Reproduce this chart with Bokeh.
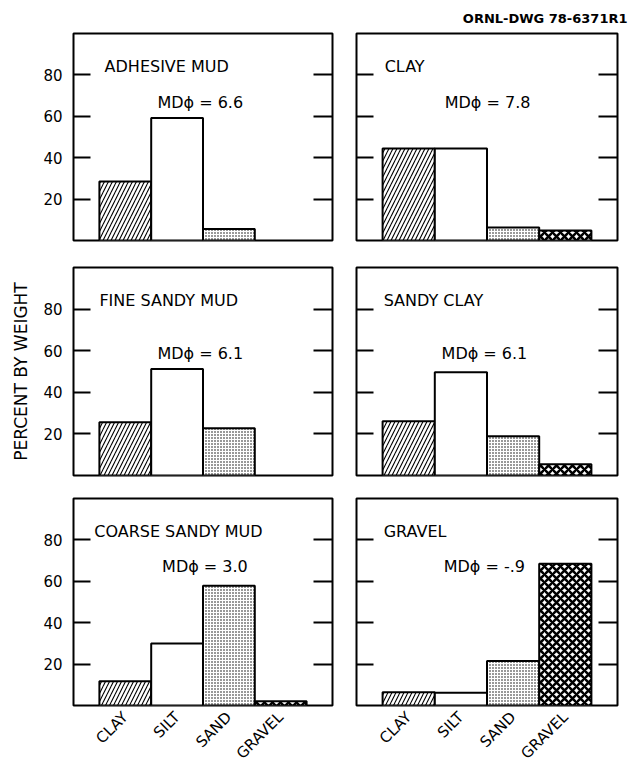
import math
from bokeh.plotting import figure
from bokeh.layouts import column, row
from bokeh.models import Range1d, FixedTicker, LinearAxis, Label, Title
from bokeh.embed import file_html
from bokeh.resources import INLINE

# ---------------- data ----------------
categories = ["CLAY", "SILT", "SAND", "GRAVEL"]
sediment_types = ["ADHESIVE MUD", "CLAY", "FINE SANDY MUD",
                  "SANDY CLAY", "COARSE SANDY MUD", "GRAVEL"]
md_labels = ["MD\u03d5 = 6.6", "MD\u03d5 = 7.8", "MD\u03d5 = 6.1",
             "MD\u03d5 = 6.1", "MD\u03d5 = 3.0", "MD\u03d5 = -.9"]

adhesive_mud = [28.5, 59.2, 5.6, 0.0]
clay = [44.4, 44.4, 6.3, 4.8]
fine_sandy_mud = [25.6, 51.2, 22.7, 0.0]
sandy_clay = [26.1, 49.6, 18.9, 5.4]
coarse_sandy_mud = [11.7, 29.9, 57.9, 2.1]
gravel = [6.4, 6.2, 21.5, 68.5]

y_ticks = [20, 40, 60, 80]
y_axis_title = "PERCENT BY WEIGHT"
drawing_id = "ORNL-DWG 78-6371R1"

series = [adhesive_mud, clay, fine_sandy_mud, sandy_clay, coarse_sandy_mud, gravel]

# ---------------- styles / layout ----------------
FONT = "DejaVu Sans"
bar_styles = {
    "CLAY": dict(fill_color="white", hatch_pattern="right_diagonal_line",
                 hatch_scale=8, hatch_weight=1.1, hatch_color="black"),
    "SILT": dict(fill_color="white"),
    "SAND": dict(fill_color="white", hatch_pattern="dot",
                 hatch_scale=3, hatch_weight=1, hatch_color="black"),
    "GRAVEL": dict(fill_color="white", hatch_pattern="diagonal_cross",
                   hatch_scale=8, hatch_weight=2.5, hatch_color="black"),
}

col_geo = [dict(left=73, right=12, width=344), dict(left=12, right=16, width=289)]
row_geo = [dict(top=32, bottom=13, height=253),
           dict(top=14, bottom=11, height=233),
           dict(top=12, bottom=65, height=285)]

title_x = [0.6, 0.54, 0.5, 0.52, 0.4, 0.52]
title_y = [84, 84, 84, 84, 84, 84]
md_x = [1.62, 1.69, 1.62, 1.63, 1.71, 1.67]
md_y = [66.5, 66.5, 58.5, 58.5, 67, 67]

figs = []
for i, name in enumerate(sediment_types):
    r, c = divmod(i, 2)
    cg, rg = col_geo[c], row_geo[r]
    p = figure(width=cg["width"], height=rg["height"],
               x_range=Range1d(0, 5), y_range=Range1d(0, 100),
               output_backend="svg", toolbar_location=None,
               min_border_left=cg["left"], min_border_right=cg["right"],
               min_border_top=rg["top"], min_border_bottom=rg["bottom"],
               background_fill_color="white", border_fill_color="white")
    p.outline_line_color = "black"
    p.outline_line_width = 2
    p.xgrid.visible = False
    p.ygrid.visible = False

    # y axes (left + right), ticks pointing inward
    right_axis = LinearAxis()
    p.add_layout(right_axis, "right")
    for ax, tick_in in ((p.yaxis[0], 17), (right_axis, 19)):
        ax.ticker = FixedTicker(ticks=y_ticks)
        ax.major_tick_in = tick_in
        ax.major_tick_out = 0
        ax.minor_tick_in = 0
        ax.minor_tick_out = 0
        ax.major_tick_line_width = 2
        ax.major_tick_line_color = "black"
        ax.axis_line_color = None
        ax.major_label_text_font = FONT
        ax.major_label_text_font_size = "15px"
        ax.major_label_text_color = "black"
    left_axis = p.yaxis[0]
    if c == 0:
        left_axis.major_label_standoff = 11
    else:
        left_axis.major_label_overrides = {t: "" for t in y_ticks}
        left_axis.major_label_standoff = 0
    right_axis.major_label_overrides = {t: "" for t in y_ticks}
    right_axis.major_label_standoff = 0

    if i == 2:
        left_axis.axis_label = y_axis_title
        left_axis.axis_label_text_font = FONT
        left_axis.axis_label_text_font_size = "17px"
        left_axis.axis_label_text_font_style = "normal"
        left_axis.axis_label_text_color = "black"
        left_axis.axis_label_standoff = 9

    # x axis
    xa = p.xaxis[0]
    if r < 2:
        xa.visible = False
    else:
        xa.ticker = FixedTicker(ticks=[j + 1 for j in range(len(categories))])
        xa.major_label_overrides = {j + 1: cat for j, cat in enumerate(categories)}
        xa.major_tick_in = 0
        xa.major_tick_out = 0
        xa.minor_tick_in = 0
        xa.minor_tick_out = 0
        xa.axis_line_color = None
        xa.major_label_orientation = math.pi / 4
        xa.major_label_text_font = FONT
        xa.major_label_text_font_size = "15px"
        xa.major_label_text_color = "black"
        xa.major_label_standoff = 9

    # bars
    for j, cat in enumerate(categories):
        v = series[i][j]
        if v > 0:
            p.vbar(x=[j + 1], top=[v], bottom=0, width=1,
                   line_color="black", line_width=2, **bar_styles[cat])

    p.add_layout(Label(x=title_x[i], y=title_y[i], text=name, text_font=FONT,
                       text_font_size="16px", text_color="black",
                       text_baseline="alphabetic"))
    p.add_layout(Label(x=md_x[i], y=md_y[i], text=md_labels[i], text_font=FONT,
                       text_font_size="16px", text_color="black",
                       text_baseline="alphabetic"))
    if i == 1:
        p.add_layout(Title(text=drawing_id, align="right", offset=-10,
                           standoff=16, text_font=FONT, text_font_size="13px",
                           text_font_style="bold", text_color="black"), "above")
    figs.append(p)

layout = column(row(figs[0], figs[1]), row(figs[2], figs[3]), row(figs[4], figs[5]))

with open("out.html", "w") as f:
    f.write(file_html(layout, INLINE))
